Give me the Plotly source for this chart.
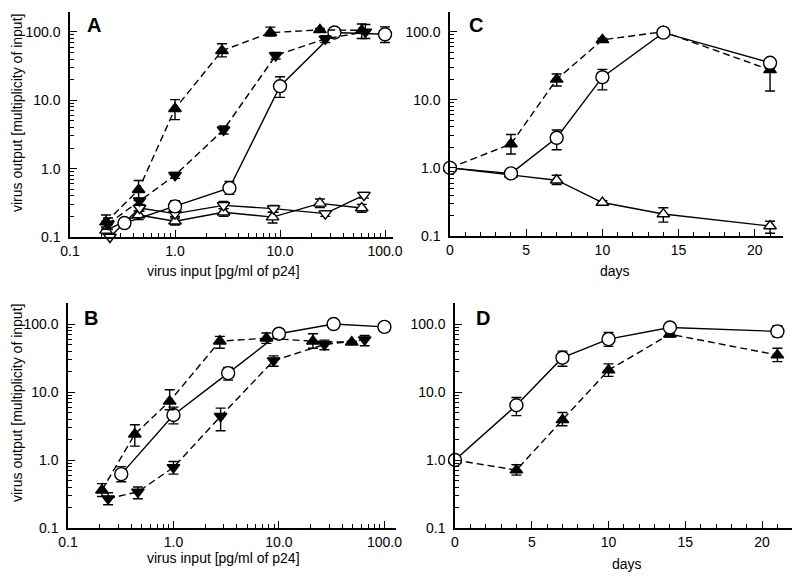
import plotly.graph_objects as go

# ---------------- data ----------------
# Panel A (virus input vs output)
A_tri_x = [0.22, 0.45, 1.0, 2.8, 8.1, 24, 60]
A_tri_y = [0.165, 0.49, 7.5, 53, 97, 107, 105]
A_tri_hi = [0.21, 0.67, 10.2, 67, 117, 112, 130]
A_tri_lo = [0.13, 0.34, 5.2, 43, 87, 100, 80]

A_inv_x = [0.23, 0.46, 1.0, 2.9, 9.1, 27, 65]
A_inv_y = [0.155, 0.34, 0.8, 3.7, 45, 79, 100]
A_inv_hi = [0.19, 0.37, 0.88, 4.2, 50, 88, 128]
A_inv_lo = [0.13, 0.30, 0.72, 3.2, 40, 70, 80]

A_circ_x = [0.33, 1.0, 3.3, 10, 33, 100]
A_circ_y = [0.16, 0.28, 0.52, 16, 98, 92]
A_circ_hi = [0.175, 0.34, 0.65, 22, 110, 118]
A_circ_lo = [0.14, 0.23, 0.42, 11, 85, 70]

A_otri_x = [0.22, 0.45, 1.0, 2.9, 8.5, 24, 60]
A_otri_y = [0.125, 0.21, 0.17, 0.23, 0.195, 0.31, 0.265]
A_otri_hi = [0.14, 0.24, 0.19, 0.26, 0.23, 0.36, 0.30]
A_otri_lo = [0.11, 0.18, 0.15, 0.20, 0.16, 0.27, 0.23]

A_oinv_x = [0.24, 0.46, 1.0, 2.9, 8.7, 27, 63]
A_oinv_y = [0.10, 0.265, 0.22, 0.29, 0.26, 0.22, 0.41]
A_oinv_hi = [0.11, 0.29, 0.25, 0.33, 0.29, 0.24, 0.45]
A_oinv_lo = [0.09, 0.24, 0.20, 0.26, 0.23, 0.20, 0.37]

# Panel B
B_tri_x = [0.21, 0.43, 0.92, 2.75, 7.6, 21, 49]
B_tri_y = [0.36, 2.4, 7.3, 56, 62, 56, 54]
B_tri_hi = [0.45, 3.3, 10.8, 66, 74, 72, 56]
B_tri_lo = [0.29, 1.6, 5.5, 44, 52, 44, 52]

B_inv_x = [0.24, 0.46, 1.0, 2.8, 8.9, 27, 65]
B_inv_y = [0.27, 0.34, 0.78, 4.4, 29, 50, 59]
B_inv_hi = [0.33, 0.40, 0.95, 5.8, 34, 58, 68]
B_inv_lo = [0.22, 0.27, 0.62, 2.7, 24, 42, 48]

B_circ_x = [0.32, 1.0, 3.3, 10, 33, 100]
B_circ_y = [0.62, 4.6, 19, 72, 100, 91]
B_circ_hi = [0.80, 6.0, 23, 85, 112, 104]
B_circ_lo = [0.48, 3.4, 15, 62, 90, 80]

# Panel C (days)
C_days = [0, 4, 7, 10, 14, 21]
C_tri_y = [1.0, 2.25, 20, 76, 100, 27.5]
C_tri_hi = [1.0, 3.1, 24, 80, 105, 33]
C_tri_lo = [1.0, 1.6, 16, 70, 95, 13.5]
C_circ_y = [1.0, 0.83, 2.77, 21.5, 97, 35]
C_circ_hi = [1.05, 0.88, 3.6, 28, 102, 40]
C_circ_lo = [0.95, 0.76, 1.85, 14, 92, 29]
C_otri_y = [1.0, 0.8, 0.66, 0.31, 0.21, 0.14]
C_otri_hi = [1.02, 0.83, 0.78, 0.33, 0.26, 0.165]
C_otri_lo = [0.98, 0.75, 0.57, 0.29, 0.16, 0.11]

# Panel D (days)
D_days = [0, 4, 7, 10, 14, 21]
D_circ_y = [1.0, 6.4, 32, 60, 89, 78]
D_circ_hi = [1.0, 8.3, 40, 75, 105, 95]
D_circ_lo = [1.0, 4.5, 24, 47, 75, 65]
D_tri_y = [1.0, 0.71, 3.9, 21, 71, 35]
D_tri_hi = [1.0, 0.85, 5.0, 26, 78, 44]
D_tri_lo = [1.0, 0.60, 3.2, 17, 65, 28]

log_ticks = [0.1, 1, 10, 100]
log_labels = ["0.1", "1.0", "10.0", "100.0"]
log_minor = [m * d for d in (0.1, 1, 10, 100) for m in range(2, 10)]
day_ticks = [0, 5, 10, 15, 20]
day_minor = list(range(0, 22))

FONT = "Liberation Sans, Arial, Helvetica, sans-serif"

fig = go.Figure()


def add(x, y, hi, lo, xa, ya, symbol, filled, dashed, size):
    fig.add_trace(go.Scatter(
        x=x, y=y, xaxis=xa, yaxis=ya, mode="lines+markers",
        line=dict(color="black", width=1.4, dash="7px,4px" if dashed else "solid"),
        marker=dict(symbol=symbol, size=size,
                    color="black" if filled else "white",
                    line=dict(color="black", width=1.4)),
        error_y=dict(type="data", symmetric=False,
                     array=[h - v for h, v in zip(hi, y)],
                     arrayminus=[v - l for v, l in zip(y, lo)],
                     color="black", thickness=1.4, width=5),
        cliponaxis=False, showlegend=False))


# Panel A
add(A_otri_x, A_otri_y, A_otri_hi, A_otri_lo, "x", "y", "triangle-up", False, False, 11)
add(A_oinv_x, A_oinv_y, A_oinv_hi, A_oinv_lo, "x", "y", "triangle-down", False, False, 11)
add(A_circ_x, A_circ_y, A_circ_hi, A_circ_lo, "x", "y", "circle", False, False, 13)
add(A_inv_x, A_inv_y, A_inv_hi, A_inv_lo, "x", "y", "triangle-down", True, True, 11)
add(A_tri_x, A_tri_y, A_tri_hi, A_tri_lo, "x", "y", "triangle-up", True, True, 11)
# Panel B
add(B_circ_x, B_circ_y, B_circ_hi, B_circ_lo, "x2", "y2", "circle", False, False, 13)
add(B_inv_x, B_inv_y, B_inv_hi, B_inv_lo, "x2", "y2", "triangle-down", True, True, 11)
add(B_tri_x, B_tri_y, B_tri_hi, B_tri_lo, "x2", "y2", "triangle-up", True, True, 11)
# Panel C
add(C_days, C_otri_y, C_otri_hi, C_otri_lo, "x3", "y3", "triangle-up", False, False, 11)
add(C_days, C_tri_y, C_tri_hi, C_tri_lo, "x3", "y3", "triangle-up", True, True, 11)
add(C_days, C_circ_y, C_circ_hi, C_circ_lo, "x3", "y3", "circle", False, False, 13)
# Panel D
add(D_days, D_tri_y, D_tri_hi, D_tri_lo, "x4", "y4", "triangle-up", True, True, 11)
add(D_days, D_circ_y, D_circ_hi, D_circ_lo, "x4", "y4", "circle", False, False, 13)

# page body has an 8px margin: figure is placed at (8, 8) in the window
OFF = 8
W, H = 792, 570


def xd(a, b):
    return [(a - OFF) / W, (b - OFF) / W]


def yd(top, bottom):
    return [1 - (bottom - OFF) / H, 1 - (top - OFF) / H]


common = dict(showline=True, linecolor="black", linewidth=1.5, ticks="inside",
              ticklen=7, tickwidth=1.3, tickcolor="black", showgrid=False,
              zeroline=False, tickfont=dict(family=FONT, size=14, color="black"),
              mirror=False, automargin=False)

logx = dict(common, type="log", tickmode="array", tickvals=log_ticks, ticktext=log_labels,
            minor=dict(tickmode="array", tickvals=log_minor, ticks="inside", ticklen=4,
                       tickwidth=1, tickcolor="black", showgrid=False))
logy = dict(logx, ticklabelstandoff=5)
dayx = dict(common, type="linear", tickmode="array", tickvals=day_ticks,
            ticktext=[str(v) for v in day_ticks],
            minor=dict(tickmode="array", tickvals=day_minor, ticks="inside", ticklen=4,
                       tickwidth=1, tickcolor="black", showgrid=False))

fig.update_layout(
    width=W, height=H, margin=dict(l=0, r=0, t=0, b=0, pad=0, autoexpand=False),
    paper_bgcolor="white", plot_bgcolor="white",
    font=dict(family=FONT, size=14, color="black"),
    xaxis=dict(logx, domain=xd(70, 393), range=[-1, 2.076], anchor="y"),
    yaxis=dict(logy, domain=yd(12, 237), range=[-1, 2.29], anchor="x"),
    xaxis2=dict(logx, domain=xd(68, 396), range=[-1, 2.11], anchor="y2"),
    yaxis2=dict(logy, domain=yd(303, 528), range=[-1, 2.31], anchor="x2"),
    xaxis3=dict(dayx, domain=xd(450, 783), range=[0, 21.85], anchor="y3"),
    yaxis3=dict(logy, domain=yd(12, 236), range=[-1, 2.29], anchor="x3"),
    xaxis4=dict(dayx, domain=xd(455, 792), range=[0, 21.95], anchor="y4"),
    yaxis4=dict(logy, domain=yd(303, 528), range=[-1, 2.31], anchor="x4"),
)

ann = []


def text(x, y, s, size=13, angle=0):
    ann.append(dict(x=(x - OFF) / W, y=1 - (y - OFF) / H, xref="paper", yref="paper",
                    text=s, showarrow=False, textangle=angle,
                    xanchor="center", yanchor="middle",
                    font=dict(family=FONT, size=size, color="black")))


text(94, 25, "<b>A</b>", size=20)
text(91, 318, "<b>B</b>", size=20)
text(476, 25, "<b>C</b>", size=20)
text(483, 318, "<b>D</b>", size=20)
text(224, 271, "virus input [pg/ml of p24]", size=14)
text(224, 558, "virus input [pg/ml of p24]", size=14)
text(615, 271, "days", size=14)
text(627, 564, "days", size=14)
text(17, 113, "virus output [multiplicity of input]", size=14, angle=-90)
text(17, 403, "virus output [multiplicity of input]", size=14, angle=-90)
fig.update_layout(annotations=ann)

fig.write_html("out.html")
